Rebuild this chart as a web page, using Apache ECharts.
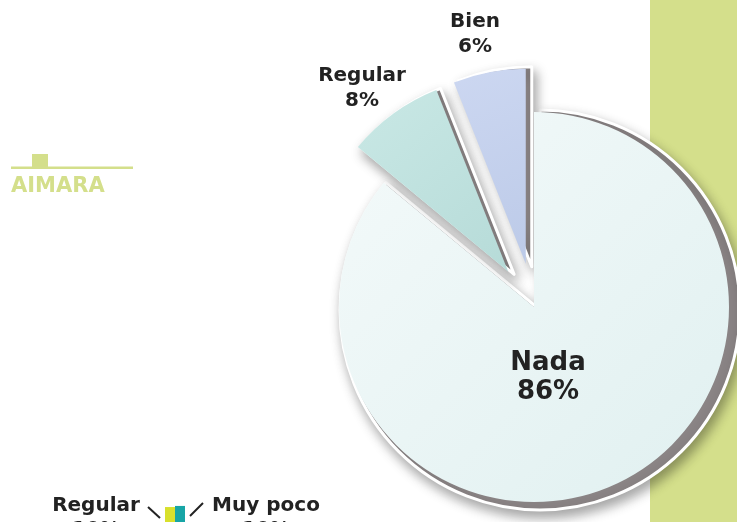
<!DOCTYPE html>
<html>
<head>
<meta charset="utf-8">
<script src="https://cdn.jsdelivr.net/npm/echarts@6/dist/echarts.min.js"></script>
<style>
html,body{margin:0;padding:0;background:#fff;}
#chart{width:737px;height:522px;}
</style>
</head>
<body>
<div id="chart"></div>
<script>
// ---- data ----
const categories = ['Nada', 'Regular', 'Bien'];
const values = [86, 8, 6];
const exploded = [false, true, true];
const miniCategories = ['Regular', 'Muy poco'];
const miniValues = [6.8, 7.3];
const bottomLabels = ['Regular\n10%', 'Muy poco\n10%'];
const sectionTitle = 'AIMARA';

// ---- layout / style ----
const LABEL_POS = [[548, 378], [362, 88], [475, 34]];
const LABEL_SIZE = [[26, 29], [20, 25], [20, 25]];
const topColors = [
  ['#f4fafa', '#e0f0f0'],
  ['#c9e8e5', '#b6dbd8'],
  ['#ccd7f1', '#bccae8']
];
const GREEN = '#d4df8b';

const chart = echarts.init(document.getElementById('chart'), null, {renderer: 'canvas'});

function grad(c) {
  return new echarts.graphic.LinearGradient(0, 0, 1, 1, [
    {offset: 0, color: c[0]}, {offset: 1, color: c[1]}
  ]);
}

const baseData = categories.map((name, i) => ({
  name, value: values[i], selected: exploded[i],
  itemStyle: {color: '#8a8485'}
}));
const topData = categories.map((name, i) => ({
  name, value: values[i], selected: exploded[i],
  itemStyle: {color: grad(topColors[i])}
}));

const sliceLabels = categories.map((name, i) => ({
  type: 'text', z: 100,
  x: LABEL_POS[i][0], y: LABEL_POS[i][1],
  style: {
    text: name + '\n' + values[i] + '%',
    fill: '#222',
    font: 'bold ' + LABEL_SIZE[i][0] + 'px "DejaVu Sans"',
    lineHeight: LABEL_SIZE[i][1],
    align: 'center',
    verticalAlign: 'middle'
  }
}));

const option = {
  animation: false,
  backgroundColor: '#ffffff',
  graphic: [
    {type: 'rect', z: -10, shape: {x: 650, y: 0, width: 87, height: 522}, style: {fill: GREEN}},
    {type: 'rect', shape: {x: 11, y: 166.5, width: 122, height: 2.5}, style: {fill: GREEN}},
    {type: 'rect', shape: {x: 32, y: 154, width: 16, height: 14}, style: {fill: GREEN}},
    {type: 'text', x: 11, y: 176, style: {text: sectionTitle, fill: GREEN, font: 'bold 21px "DejaVu Sans"'}},
    {type: 'text', x: 96, y: 494, style: {text: bottomLabels[0], fill: '#222', font: 'bold 20px "DejaVu Sans"', align: 'center', lineHeight: 24}},
    {type: 'text', x: 266, y: 494, style: {text: bottomLabels[1], fill: '#222', font: 'bold 20px "DejaVu Sans"', align: 'center', lineHeight: 24}},
    {type: 'line', shape: {x1: 148, y1: 507, x2: 160, y2: 518}, style: {stroke: '#222', lineWidth: 2}},
    {type: 'line', shape: {x1: 190, y1: 516, x2: 203, y2: 503}, style: {stroke: '#222', lineWidth: 2}}
  ].concat(sliceLabels),
  grid: {left: 165, top: 500, width: 20, height: 22},
  xAxis: {type: 'category', data: miniCategories, show: false},
  yAxis: {type: 'value', min: 0, max: 10, show: false},
  series: [
    {
      type: 'bar',
      data: miniValues.map((v, i) => ({value: v, itemStyle: {color: i === 0 ? '#d8e02c' : '#17a5a6'}})),
      barWidth: 10,
      silent: true
    },
    {
      type: 'pie',
      center: [540, 310],
      radius: [0, 200],
      startAngle: 90,
      clockwise: true,
      selectedMode: 'multiple',
      selectedOffset: 44,
      silent: true,
      emphasis: {disabled: true},
      label: {show: false},
      labelLine: {show: false},
      itemStyle: {
        borderColor: '#ffffff', borderWidth: 3,
        shadowBlur: 12, shadowColor: 'rgba(0,0,0,0.35)', shadowOffsetX: 3, shadowOffsetY: 6
      },
      data: baseData
    },
    {
      type: 'pie',
      center: [534, 307],
      radius: [0, 195],
      startAngle: 90,
      clockwise: true,
      selectedMode: 'multiple',
      selectedOffset: 44,
      silent: true,
      emphasis: {disabled: true},
      itemStyle: {borderWidth: 0},
      label: {show: false},
      labelLine: {show: false},
      data: topData
    }
  ]
};
chart.setOption(option);
</script>
</body>
</html>
